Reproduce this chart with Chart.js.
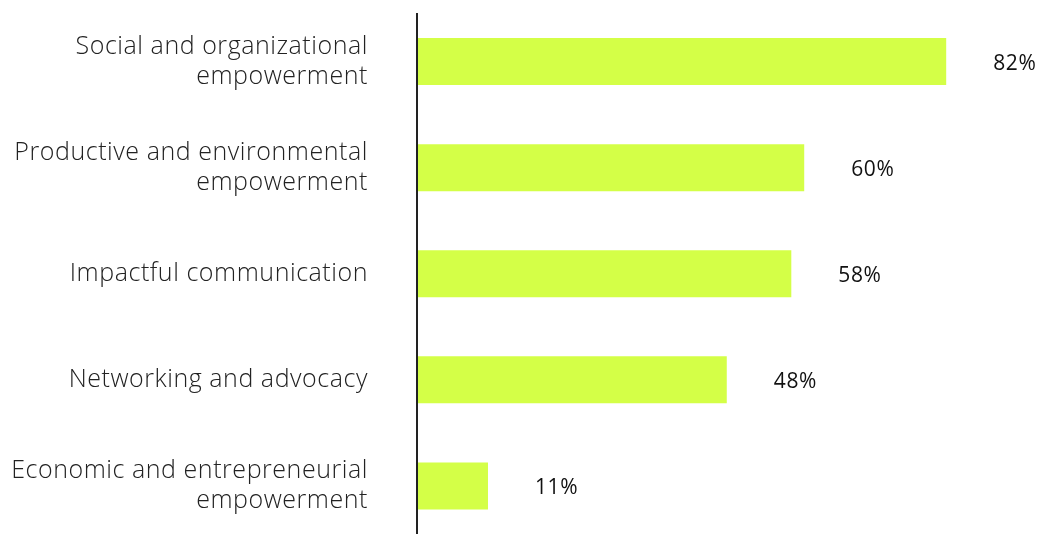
<!DOCTYPE html>
<html>
<head>
<meta charset="utf-8">
<script src="https://cdn.jsdelivr.net/npm/chart.js@4"></script>
<style>
  html, body { margin: 0; padding: 0; background: #fff; overflow: hidden; }
  canvas { display: block; }
</style>
</head>
<body>
<canvas id="chart" width="1043" height="545"></canvas>
<script>
// Areas and share of responses
const categories = [
  ["Social and organizational", "empowerment"],
  ["Productive and environmental", "empowerment"],
  "Impactful communication",
  "Networking and advocacy",
  ["Economic and entrepreneurial", "empowerment"]
];
const values = [82, 60, 58, 48, 11];
const valueLabels = ["82%", "60%", "58%", "48%", "11%"];

const barColor = "#d4ff47";

// wider tracking for the category names
const spacing = {
  id: "spacing",
  beforeDraw(chart) { chart.ctx.letterSpacing = "0.55px"; },
  afterDraw(chart) { chart.ctx.letterSpacing = "0px"; }
};

// value text to the right of each bar + the vertical axis line
const barLabels = {
  id: "barLabels",
  afterDatasetsDraw(chart) {
    const ctx = chart.ctx;
    const area = chart.chartArea;
    ctx.save();
    ctx.strokeStyle = "#222";
    ctx.lineWidth = 2;
    ctx.beginPath();
    ctx.moveTo(area.left, area.top + 4.5);
    ctx.lineTo(area.left, area.bottom);
    ctx.stroke();

    ctx.fillStyle = "#111";
    ctx.font = "21px 'Open Sans'";
    ctx.letterSpacing = "0.6px";
    ctx.textAlign = "left";
    ctx.textBaseline = "middle";
    chart.getDatasetMeta(0).data.forEach((bar, i) => {
      ctx.fillText(valueLabels[i], bar.x + 47, bar.y + 2.5);
    });
    ctx.restore();
  }
};

new Chart(document.getElementById("chart"), {
  type: "bar",
  data: {
    labels: categories,
    datasets: [{
      data: values,
      backgroundColor: barColor,
      borderWidth: 0,
      categoryPercentage: 1,
      barPercentage: 0.443
    }]
  },
  options: {
    indexAxis: "y",
    responsive: false,
    animation: false,
    layout: { padding: { top: 8.5, bottom: 6, left: 0, right: 0 } },
    plugins: { legend: { display: false }, tooltip: { enabled: false } },
    scales: {
      x: { display: false, min: 0, max: 97 },
      y: {
        afterFit(scale) {
          scale.width = 417;
          scale.paddingTop = 0;
          scale.paddingBottom = 0;
        },
        border: { display: false },
        grid: { display: false, drawTicks: false },
        ticks: {
          padding: 49,
          color: "#222",
          font: { family: "Open Sans", size: 25, weight: 300, lineHeight: 1.2 }
        }
      }
    }
  },
  plugins: [spacing, barLabels]
});
</script>
</body>
</html>
